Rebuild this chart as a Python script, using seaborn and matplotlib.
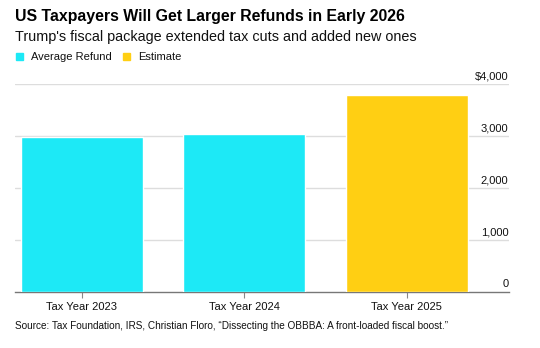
import matplotlib
matplotlib.use("Agg")
import matplotlib.pyplot as plt
import seaborn as sns
import pandas as pd
from matplotlib.patches import Rectangle

categories = ["Tax Year 2023", "Tax Year 2024", "Tax Year 2025"]
values = [2980, 3040, 3790]
series = ["Average Refund", "Average Refund", "Estimate"]
colors = {"Average Refund": "#1DE9F6", "Estimate": "#FFCF13"}
yticks = [0, 1000, 2000, 3000, 4000]
ytick_labels = ["0", "1,000", "2,000", "3,000", "$4,000"]

sns.set_theme(style="white")
plt.rcParams["font.family"] = ["Liberation Sans", "DejaVu Sans"]

df = pd.DataFrame({"cat": categories, "val": values, "series": series})

W, H = 540, 348
fig = plt.figure(figsize=(W / 100, H / 100), dpi=100)
ax = fig.add_axes([15 / W, 1 - 292 / H, (509 - 15) / W, (292 - 84) / H])

sns.barplot(data=df, x="cat", y="val", hue="series", palette=colors,
            dodge=False, width=0.75, saturation=1, legend=False, ax=ax, zorder=3)

ax.set_xlim(-0.41, 2.63)
ax.set_ylim(0, 4000)
for s in ["top", "right", "left"]:
    ax.spines[s].set_visible(False)
ax.spines["bottom"].set_color("#777777")
ax.spines["bottom"].set_linewidth(1.0)
ax.set_yticks([])
ax.set_xlabel("")
ax.set_ylabel("")
ax.tick_params(axis="x", length=4, width=0.8, color="#888888", labelsize=8,
               labelcolor="#111111", pad=3, bottom=True)

for t, lab in zip(yticks, ytick_labels):
    if t > 0:
        ax.axhline(t, color="#dddddd", linewidth=1, zorder=1)
    ax.text(0.999, t + 55, lab, transform=ax.get_yaxis_transform(),
            ha="right", va="bottom", fontsize=8, color="#111111", zorder=4)

fig.text(15 / W, 1 - 21 / H, "US Taxpayers Will Get Larger Refunds in Early 2026",
         fontsize=11.4, fontweight="bold", color="#000000", va="baseline", ha="left")
fig.text(15 / W, 1 - 41 / H, "Trump's fiscal package extended tax cuts and added new ones",
         fontsize=10.4, color="#111111", va="baseline", ha="left")

# legend
for x0, lab in [(16, "Average Refund"), (123, "Estimate")]:
    fig.patches.append(Rectangle((x0 / W, 1 - 60 / H), 7 / W, 7 / H,
                                 transform=fig.transFigure, color=colors[lab]))
    fig.text((x0 + 15) / W, 1 - 60 / H, lab, fontsize=8, color="#111111",
             va="baseline", ha="left")

fig.text(15 / W, 1 - 329 / H,
         "Source: Tax Foundation, IRS, Christian Floro, \u201cDissecting the OBBBA: A front-loaded fiscal boost.\u201d",
         fontsize=7.2, color="#111111", va="baseline", ha="left")

fig.savefig("out.png", dpi=100)
